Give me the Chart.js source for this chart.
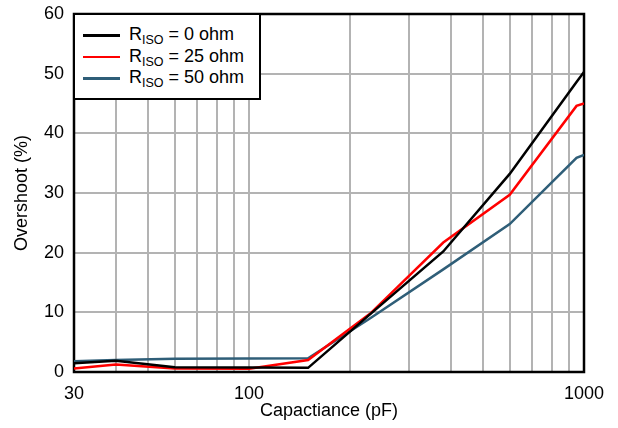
<!DOCTYPE html>
<html>
<head>
<meta charset="utf-8">
<script src="https://cdn.jsdelivr.net/npm/chart.js@4.4.0/dist/chart.umd.min.js"></script>
<style>
  html, body { margin: 0; padding: 0; background: #fff; }
  #wrap { position: relative; width: 618px; height: 428px; }
  #legend {
    position: absolute; box-sizing: border-box; background: #fff;
    border: 2px solid #000; left: 73px; top: 13px; width: 188px; height: 87px;
    font-family: "Liberation Sans", Arial, sans-serif; font-size: 18px; color: #000;
    padding-top: 9px;
  }
  #legend .row { position: relative; height: 21.5px; line-height: 21.5px; }
  #legend .sw { position: absolute; left: 8px; top: 10px; width: 37px; height: 2.5px; }
  #legend .txt { position: absolute; left: 54px; top: 0; white-space: nowrap; }
  #legend sub { font-size: 12.5px; vertical-align: -4px; line-height: 0; }
</style>
</head>
<body>
<div id="wrap">
  <canvas id="chart" width="618" height="428"></canvas>
  <div id="legend"></div>
</div>
<script>
// capacitance (pF) sample points
const capacitance = [30, 40, 60, 100, 150, 230, 380, 600, 950, 1000];
// overshoot (%) per isolation resistor
const riso0 = [1.45, 1.9, 0.8, 0.75, 0.7, 9.7, 20.2, 33.2, 48.6, 50.3];
const riso25 = [0.6, 1.25, 0.6, 0.55, 2.0, 9.8, 21.7, 29.7, 44.6, 45.0];
const riso50 = [1.8, 2.0, 2.2, 2.25, 2.3, 9.0, 17.2, 24.8, 35.9, 36.4];

const seriesNames = ["0 ohm", "25 ohm", "50 ohm"];
const seriesColors = ["#000000", "#ff0000", "#2f5e78"];

const xGrid = [30, 40, 50, 60, 70, 80, 90, 100, 200, 300, 400, 500, 600, 700, 800, 900, 1000];
const xLabeled = [30, 100, 1000];
const yTicks = [0, 10, 20, 30, 40, 50, 60];

const FONT = "'Liberation Sans', Arial, sans-serif";

function toPoints(ys) {
  return capacitance.map((c, i) => ({ x: c, y: ys[i] }));
}

const frame = {
  id: "frame",
  beforeDatasetsDraw(chart) {
    const a = chart.chartArea;
    const ctx = chart.ctx;
    ctx.save();
    ctx.strokeStyle = "#000";
    ctx.lineWidth = 2.5;
    ctx.strokeRect(a.left, a.top, a.right - a.left, a.bottom - a.top);
    ctx.restore();
  }
};

const chart = new Chart(document.getElementById("chart"), {
  type: "line",
  data: {
    datasets: [riso0, riso25, riso50].map((ys, i) => ({
      label: seriesNames[i],
      data: toPoints(ys),
      borderColor: seriesColors[i],
      borderWidth: 2.5,
      pointRadius: 0,
      tension: 0,
      fill: false
    }))
  },
  options: {
    responsive: false,
    animation: false,
    layout: { padding: { top: 14, right: 34, left: 0, bottom: 0 } },
    plugins: { legend: { display: false }, tooltip: { enabled: false } },
    scales: {
      x: {
        type: "logarithmic",
        min: 30,
        max: 1000,
        afterBuildTicks(scale) { scale.ticks = xGrid.map(v => ({ value: v })); },
        afterFit(scale) {
          scale.height = 56;
          scale.paddingLeft = 0;
          scale.paddingRight = 0;
        },
        grid: { color: "#b3b3b3", lineWidth: 2, drawTicks: false },
        border: { display: false },
        ticks: {
          autoSkip: false, maxRotation: 0, padding: 11, color: "#000",
          font: { family: FONT, size: 18 },
          callback: v => xLabeled.includes(v) ? String(v) : ""
        },
        title: {
          display: true, text: "Capactiance (pF)", color: "#000",
          font: { family: FONT, size: 18 }, padding: { top: 0, bottom: 6 }
        }
      },
      y: {
        min: 0,
        max: 60,
        afterBuildTicks(scale) { scale.ticks = yTicks.map(v => ({ value: v })); },
        afterFit(scale) {
          scale.width = 74;
          scale.paddingTop = 0;
          scale.paddingBottom = 0;
        },
        grid: { color: "#b3b3b3", lineWidth: 2, drawTicks: false },
        border: { display: false },
        ticks: {
          padding: 10, color: "#000",
          font: { family: FONT, size: 18 }
        },
        title: {
          display: true, text: "Overshoot (%)", color: "#000",
          font: { family: FONT, size: 18 }, padding: { top: 11, bottom: 0 }
        }
      }
    }
  },
  plugins: [frame]
});

// legend with subscript, built from the series
const legend = document.getElementById("legend");
chart.data.datasets.forEach(ds => {
  const row = document.createElement("div");
  row.className = "row";
  row.innerHTML = '<span class="sw" style="background:' + ds.borderColor + '"></span>' +
    '<span class="txt">R<sub>ISO</sub> = ' + ds.label + '</span>';
  legend.appendChild(row);
});
</script>
</body>
</html>
